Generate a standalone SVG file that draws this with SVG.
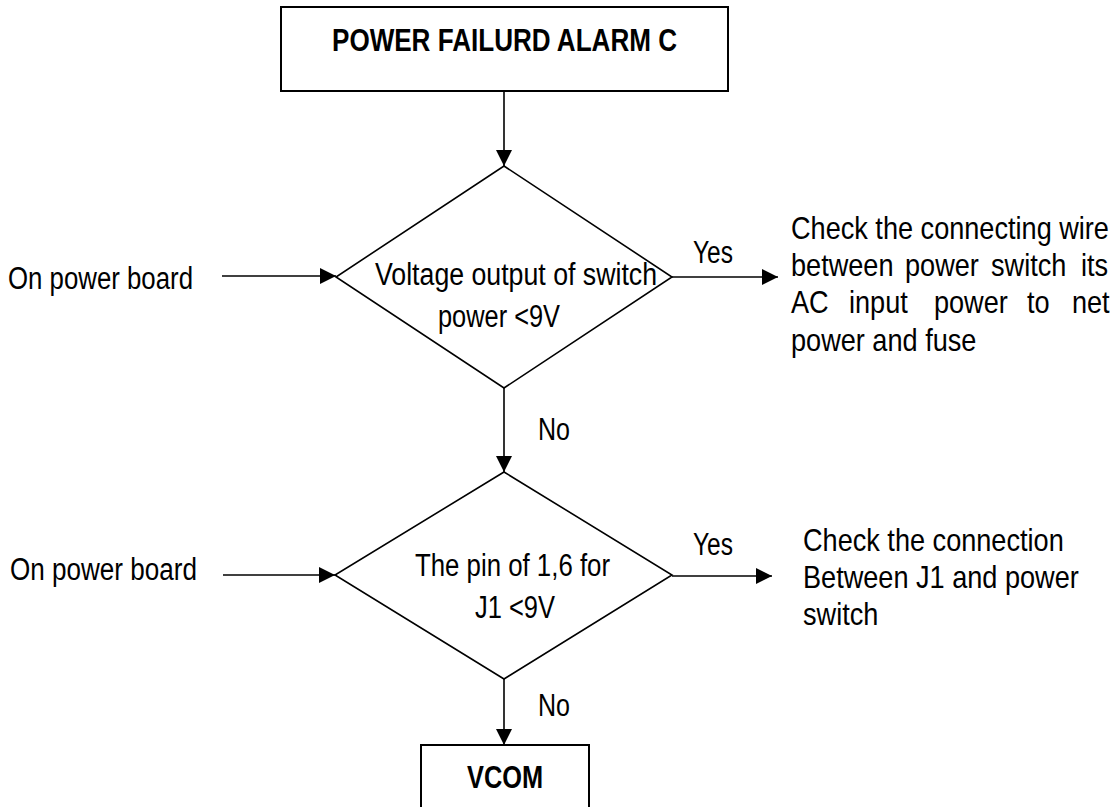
<svg xmlns="http://www.w3.org/2000/svg" width="1113" height="807" viewBox="0 0 1113 807">
<style>
text{font-family:"Liberation Sans",Arial,sans-serif;font-size:31px;fill:#000}
.b{font-weight:bold}
.box{fill:#fff;stroke:#000;stroke-width:2}
.dia{fill:#fff;stroke:#000;stroke-width:1.6}
.ln{fill:none;stroke:#000;stroke-width:1.6;marker-end:url(#ah)}
</style>
<defs>
<marker id="ah" markerUnits="userSpaceOnUse" markerWidth="16" markerHeight="16" viewBox="0 0 16 16" refX="16" refY="8" orient="auto">
<path d="M0,0 L16,8 L0,16 Z" fill="#000"/>
</marker>
</defs>
<rect width="1113" height="807" fill="#fff"/>
<g id="connectors">
<line class="ln" x1="504" y1="91" x2="504" y2="166"/>
<line class="ln" x1="504" y1="388" x2="504" y2="472"/>
<line class="ln" x1="504" y1="679" x2="504" y2="745"/>
<line class="ln" x1="222" y1="276" x2="336" y2="276"/>
<line class="ln" x1="223" y1="575" x2="335" y2="575"/>
<line class="ln" x1="672" y1="277" x2="778" y2="277"/>
<line class="ln" x1="672" y1="576" x2="772" y2="576"/>
<text x="538" y="440" textLength="32" lengthAdjust="spacingAndGlyphs">No</text>
<text x="538" y="716" textLength="32" lengthAdjust="spacingAndGlyphs">No</text>
<text x="693" y="263" textLength="40" lengthAdjust="spacingAndGlyphs">Yes</text>
<text x="693" y="555" textLength="40" lengthAdjust="spacingAndGlyphs">Yes</text>
</g>
<g id="title">
<rect class="box" x="281" y="7" width="447" height="84"/>
<text class="b" x="332" y="51" textLength="345" lengthAdjust="spacingAndGlyphs">POWER FAILURD ALARM C</text>
</g>
<g id="decision1">
<polygon class="dia" points="504,166 672,277 504,388 336,277"/>
<text x="375" y="285" textLength="282" lengthAdjust="spacingAndGlyphs">Voltage output of switch</text>
<text x="438" y="327" textLength="122" lengthAdjust="spacingAndGlyphs">power &lt;9V</text>
</g>
<g id="input1">
<text x="8" y="289" textLength="185" lengthAdjust="spacingAndGlyphs">On power board</text>
</g>
<g id="result1" transform="translate(791,0) scale(0.875,1)">
<text x="0" y="239">Check the connecting wire</text>
<text y="276"><tspan x="0">between</tspan><tspan x="130.3">power</tspan><tspan x="228.6">switch</tspan><tspan x="331.4">its</tspan></text>
<text y="313"><tspan x="0">AC</tspan><tspan x="66.3">input</tspan><tspan x="163.4">power</tspan><tspan x="269.7">to</tspan><tspan x="321.1">net</tspan></text>
<text x="0" y="351">power and fuse</text>
</g>
<g id="decision2">
<polygon class="dia" points="504,472 672,575 504,679 335,575"/>
<text x="415" y="576" textLength="195" lengthAdjust="spacingAndGlyphs">The pin of 1,6 for</text>
<text x="475" y="618" textLength="80" lengthAdjust="spacingAndGlyphs">J1 &lt;9V</text>
</g>
<g id="input2">
<text x="10" y="580" textLength="187" lengthAdjust="spacingAndGlyphs">On power board</text>
</g>
<g id="result2" transform="translate(803,0) scale(0.875,1)">
<text x="0" y="551">Check the connection</text>
<text x="0" y="588">Between J1 and power</text>
<text x="0" y="625">switch</text>
</g>
<g id="vcom">
<rect class="box" x="421" y="745" width="168" height="70"/>
<text class="b" x="467" y="788" textLength="76" lengthAdjust="spacingAndGlyphs">VCOM</text>
</g>
</svg>
